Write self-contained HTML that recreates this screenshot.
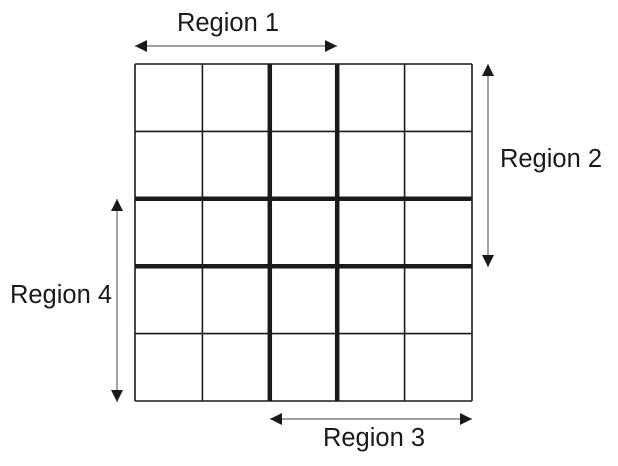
<!DOCTYPE html>
<html><head><meta charset="utf-8"><style>
html,body{margin:0;padding:0;background:#fff;width:618px;height:466px;overflow:hidden}
text{font-family:"Liberation Sans",Arial,sans-serif;font-size:25.5px;fill:#1a1a1a}
</style></head><body>
<svg id="chart" width="618" height="466" viewBox="0 0 618 466" xmlns="http://www.w3.org/2000/svg">
<defs>
<marker id="ah" viewBox="0 0 12 12" refX="12" refY="6" markerWidth="12" markerHeight="12" markerUnits="userSpaceOnUse" orient="auto-start-reverse">
<path d="M0,0 L12,6 L0,12 Z" fill="#1a1a1a"/>
</marker>
</defs>
<g id="grid"></g>
<g>
<line x1="135" y1="46" x2="337" y2="46" stroke="#666" stroke-width="1.2" marker-start="url(#ah)" marker-end="url(#ah)"/>
<text x="228" y="31" text-anchor="middle">Region 1</text>
</g>
<g>
<line x1="488" y1="64" x2="488" y2="267" stroke="#666" stroke-width="1.2" marker-start="url(#ah)" marker-end="url(#ah)"/>
<text x="551" y="167" text-anchor="middle">Region 2</text>
</g>
<g>
<line x1="270" y1="419" x2="472" y2="419" stroke="#666" stroke-width="1.2" marker-start="url(#ah)" marker-end="url(#ah)"/>
<text x="374" y="446" text-anchor="middle">Region 3</text>
</g>
<g>
<line x1="117" y1="199" x2="117" y2="402" stroke="#666" stroke-width="1.2" marker-start="url(#ah)" marker-end="url(#ah)"/>
<text x="61" y="303" text-anchor="middle">Region 4</text>
</g>
</svg>
<script>
const gridLines = [0,1,2,3,4,5];
const thickVertical = [2,3];
const thickHorizontal = [2,3];
const x0 = 135, y0 = 64, cell = 67.4;
const g = document.getElementById('grid');
const ns = 'http://www.w3.org/2000/svg';
gridLines.forEach(i => {
  const v = document.createElementNS(ns,'line');
  
  
  v.setAttribute('x1', x0+i*cell); v.setAttribute('x2', x0+i*cell);
  v.setAttribute('y1', y0); v.setAttribute('y2', y0+5*cell);
  v.setAttribute('stroke', '#1a1a1a');
  v.setAttribute('stroke-width', thickVertical.includes(i) ? 4.5 : 1.6);
  g.appendChild(v);
  const h = document.createElementNS(ns,'line');
  
  
  h.setAttribute('y1', y0+i*cell); h.setAttribute('y2', y0+i*cell);
  h.setAttribute('x1', x0); h.setAttribute('x2', x0+5*cell);
  h.setAttribute('stroke', '#1a1a1a');
  h.setAttribute('stroke-width', thickHorizontal.includes(i) ? 4.5 : 1.6);
  g.appendChild(h);
});
</script>
</body></html>
